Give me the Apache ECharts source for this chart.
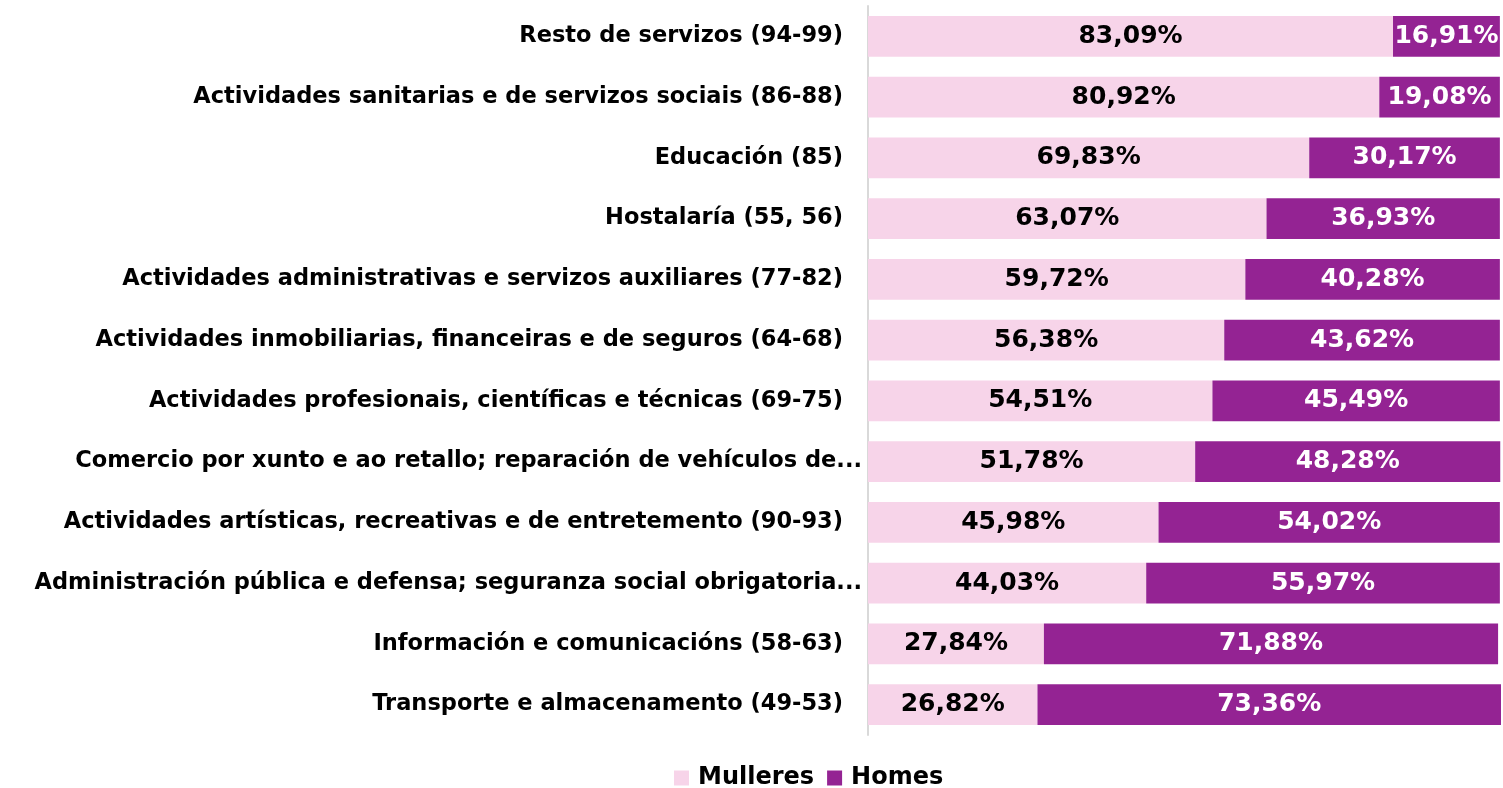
<!DOCTYPE html>
<html>
<head>
<meta charset="utf-8">
<script src="https://cdn.jsdelivr.net/npm/echarts@6/dist/echarts.min.js"></script>
<style>html,body{margin:0;padding:0;background:#fff}#c{width:1503px;height:788px}</style>
</head>
<body>
<div id="c"></div>
<script>
const categories = [
  "Resto de servizos (94-99)",
  "Actividades sanitarias e de servizos sociais (86-88)",
  "Educación (85)",
  "Hostalaría (55, 56)",
  "Actividades administrativas e servizos auxiliares (77-82)",
  "Actividades inmobiliarias, financeiras e de seguros (64-68)",
  "Actividades profesionais, científicas e técnicas (69-75)",
  "Comercio por xunto e ao retallo; reparación de vehículos de...",
  "Actividades artísticas, recreativas e de entretemento (90-93)",
  "Administración pública e defensa; seguranza social obrigatoria...",
  "Información e comunicacións (58-63)",
  "Transporte e almacenamento (49-53)"
];
const mulleres = [83.09, 80.92, 69.83, 63.07, 59.72, 56.38, 54.51, 51.78, 45.98, 44.03, 27.84, 26.82];
const homes = [16.91, 19.08, 30.17, 36.93, 40.28, 43.62, 45.49, 48.28, 54.02, 55.97, 71.88, 73.36];

const FONT = '"DejaVu Sans"';
const fmt = v => v.toFixed(2).replace('.', ',') + '%';
const maxSum = Math.max(...mulleres.map((m, i) => m + homes[i]));

const chart = echarts.init(document.getElementById('c'), null, {renderer: 'canvas'});
chart.setOption({
  animation: false,
  textStyle: {fontFamily: FONT},
  grid: {left: 868, right: 2, top: 6, bottom: 53, containLabel: false},
  legend: {
    top: 761, left: 669, itemWidth: 15, itemHeight: 15, itemGap: 13,
    icon: 'rect',
    textStyle: {fontFamily: FONT, fontWeight: 'bold', fontSize: 24, color: '#000', padding: [0, 0, 0, 4]},
    data: ['Mulleres', 'Homes']
  },
  xAxis: {type: 'value', min: 0, max: maxSum, show: false, splitLine: {show: false}},
  yAxis: {
    type: 'category', data: categories, inverse: true,
    axisLine: {show: true, lineStyle: {color: '#d9d9d9', width: 2}},
    axisTick: {show: false},
    axisLabel: {
      margin: 6, color: '#000',
      formatter: v => v.endsWith('...') ? '{t|' + v + '}' : '{n|' + v + '}',
      rich: {
        t: {fontFamily: FONT, fontWeight: 'bold', fontSize: 22.5, color: '#000'},
        n: {fontFamily: FONT, fontWeight: 'bold', fontSize: 22.5, color: '#000', padding: [0, 19, 0, 0]}
      }
    }
  },
  series: [
    {
      name: 'Mulleres', type: 'bar', stack: 'total', data: mulleres, barCategoryGap: '33%',
      itemStyle: {color: '#f7d4e9'},
      label: {show: true, position: 'inside', color: '#000', fontFamily: FONT, fontWeight: 'bold', fontSize: 25, formatter: p => fmt(p.value)}
    },
    {
      name: 'Homes', type: 'bar', stack: 'total', data: homes, barCategoryGap: '33%',
      itemStyle: {color: '#942393'},
      label: {show: true, position: 'inside', color: '#fff', fontFamily: FONT, fontWeight: 'bold', fontSize: 25, formatter: p => fmt(p.value)}
    }
  ]
});
</script>
</body>
</html>
